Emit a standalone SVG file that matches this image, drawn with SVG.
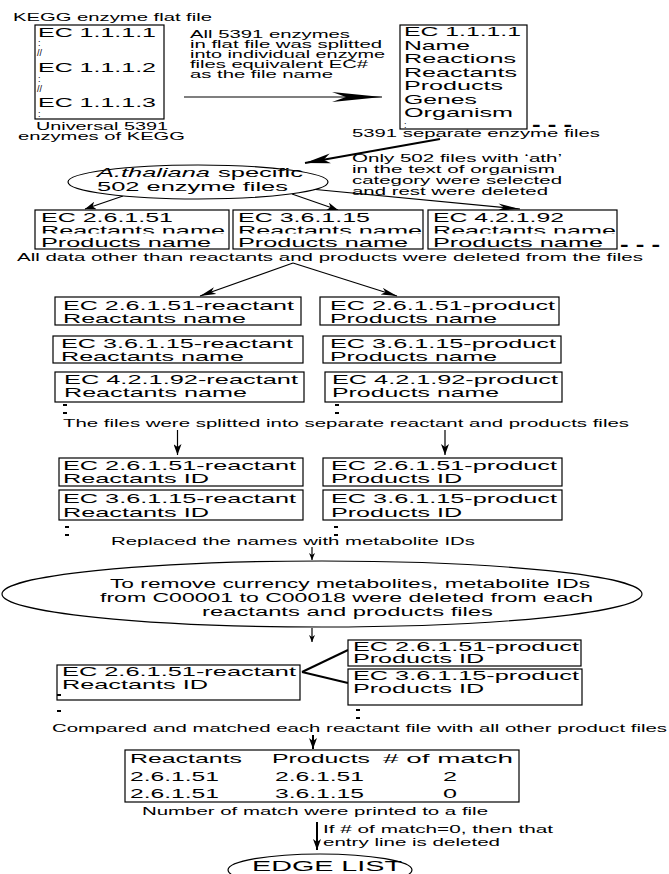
<svg xmlns="http://www.w3.org/2000/svg" width="669" height="874" viewBox="0 0 669 874">
<style>
.t{font-family:"Liberation Sans",Arial,Helvetica,sans-serif;fill:#000}
.s{font-size:11px}
.m{font-size:13.5px}
.e{font-size:12.5px}
.k{font-size:9px}
.d{font-size:18px;font-weight:bold}
.b{fill:#fff;stroke:#000;stroke-width:1.2}
.o{fill:#fff;stroke:#000;stroke-width:1.2}
.c{fill:none;stroke:#000;stroke-width:1.2}
.w{stroke-width:2}
.dot{fill:#000}
</style>
<defs>
<marker id="aL" markerUnits="userSpaceOnUse" markerWidth="52" markerHeight="12" refX="50" refY="6" orient="auto"><path d="M0,1 L50,6 L0,11 L14,6 Z" fill="#000"/></marker>
<marker id="aM" markerUnits="userSpaceOnUse" markerWidth="28" markerHeight="12" refX="26" refY="6" orient="auto"><path d="M0,1 L26,6 L0,11 L7,6 Z" fill="#000"/></marker>
<marker id="aN" markerUnits="userSpaceOnUse" markerWidth="24" markerHeight="8" refX="22" refY="4" orient="auto"><path d="M0,0.5 L22,4 L0,7.5 L6,4 Z" fill="#000"/></marker>
<marker id="aP" markerUnits="userSpaceOnUse" markerWidth="18" markerHeight="8" refX="16" refY="4" orient="auto"><path d="M0,0.5 L16,4 L0,7.5 L4,4 Z" fill="#000"/></marker>
<marker id="aS" markerUnits="userSpaceOnUse" markerWidth="12" markerHeight="8" refX="11" refY="4" orient="auto"><path d="M0,0 L11,4 L0,8 L3,4 Z" fill="#000"/></marker>
<marker id="aT" markerUnits="userSpaceOnUse" markerWidth="8" markerHeight="6" refX="7" refY="3" orient="auto"><path d="M0,0 L7,3 L0,6 L2,3 Z" fill="#000"/></marker>
<clipPath id="clipR" clipPathUnits="userSpaceOnUse"><rect x="0" y="200" width="669" height="33.5"/></clipPath>
</defs>

<g id="connectors">
<line class="c" x1="184" y1="97" x2="382" y2="97" marker-end="url(#aL)"/>
<line class="c w" x1="440" y1="139" x2="305" y2="163" marker-end="url(#aM)"/>
<line class="c" x1="123" y1="196" x2="85" y2="209" marker-end="url(#aS)"/>
<line class="c" x1="292" y1="194" x2="338" y2="210" marker-end="url(#aS)"/>
<line class="c" x1="300" y1="188" x2="520" y2="209" marker-end="url(#aN)"/>
<line class="c" x1="293" y1="263" x2="200" y2="296" marker-end="url(#aP)"/>
<line class="c" x1="293" y1="263" x2="397" y2="296" marker-end="url(#aP)"/>
<line class="c" x1="177.5" y1="430" x2="177.5" y2="455" marker-end="url(#aS)"/>
<line class="c" x1="445" y1="430" x2="445" y2="455" marker-end="url(#aS)"/>
<line class="c" x1="312" y1="547" x2="312" y2="560" marker-end="url(#aT)"/>
<line class="c" x1="312" y1="628" x2="312" y2="642" marker-end="url(#aT)"/>
<line class="c w" x1="302" y1="672" x2="348" y2="650"/>
<line class="c w" x1="302" y1="672" x2="348" y2="683"/>
<line class="c w" x1="313" y1="735" x2="313" y2="749" marker-end="url(#aS)"/>
<line class="c w" x1="317" y1="822" x2="317" y2="850" marker-end="url(#aS)"/>
</g>

<g id="lbl-flatfile">
<text class="t s" x="13" y="21" textLength="199" lengthAdjust="spacingAndGlyphs">KEGG enzyme flat file</text>
</g>

<g id="node-flatfile">
<rect class="b" x="35" y="25" width="129" height="94" stroke-width="1.5"/>
<text class="t m" x="38" y="37" textLength="118" lengthAdjust="spacingAndGlyphs">EC 1.1.1.1</text>
<text class="t k" x="38" y="45.5">:</text>
<text class="t k" x="37" y="56">//</text>
<text class="t m" x="38" y="72" textLength="118" lengthAdjust="spacingAndGlyphs">EC 1.1.1.2</text>
<text class="t k" x="38" y="82">:</text>
<text class="t k" x="37" y="92">//</text>
<text class="t m" x="38" y="107" textLength="118" lengthAdjust="spacingAndGlyphs">EC 1.1.1.3</text>
<text class="t k" x="38" y="117">:</text>
</g>

<g id="lbl-universal">
<text class="t s" x="36" y="130" textLength="132" lengthAdjust="spacingAndGlyphs">Universal 5391</text>
<text class="t s" x="18" y="140" textLength="167" lengthAdjust="spacingAndGlyphs">enzymes of KEGG</text>
</g>

<g id="lbl-split">
<text class="t s" x="190" y="38" textLength="160" lengthAdjust="spacingAndGlyphs">All 5391 enzymes</text>
<text class="t s" x="190" y="48" textLength="192" lengthAdjust="spacingAndGlyphs">in flat file was splitted</text>
<text class="t s" x="190" y="58" textLength="195" lengthAdjust="spacingAndGlyphs">into individual enzyme</text>
<text class="t s" x="190" y="68" textLength="178" lengthAdjust="spacingAndGlyphs">files equivalent EC#</text>
<text class="t s" x="190" y="78" textLength="143" lengthAdjust="spacingAndGlyphs">as the file name</text>
</g>

<g id="node-enzymefile">
<rect class="b" x="400" y="25" width="127" height="104"/>
<text class="t m" x="404" y="36" textLength="117" lengthAdjust="spacingAndGlyphs">EC 1.1.1.1</text>
<text class="t m" x="404" y="50" textLength="66" lengthAdjust="spacingAndGlyphs">Name</text>
<text class="t m" x="404" y="63" textLength="112" lengthAdjust="spacingAndGlyphs">Reactions</text>
<text class="t m" x="404" y="77" textLength="113" lengthAdjust="spacingAndGlyphs">Reactants</text>
<text class="t m" x="404" y="90" textLength="99" lengthAdjust="spacingAndGlyphs">Products</text>
<text class="t m" x="404" y="104" textLength="73" lengthAdjust="spacingAndGlyphs">Genes</text>
<text class="t m" x="404" y="117" textLength="109" lengthAdjust="spacingAndGlyphs">Organism</text>
<text class="t k" x="404" y="128">:</text>
</g>
<g id="more-1">
<text class="t d" x="532" y="130.5" textLength="40" lengthAdjust="spacingAndGlyphs">- - -</text>
</g>

<g id="lbl-separate">
<text class="t s" x="352" y="137" textLength="248" lengthAdjust="spacingAndGlyphs">5391 separate enzyme files</text>
</g>

<g id="lbl-ath">
<text class="t s" x="352" y="162" textLength="210" lengthAdjust="spacingAndGlyphs">Only 502 files with ‘ath’</text>
<text class="t s" x="352" y="173" textLength="203" lengthAdjust="spacingAndGlyphs">in the text of organism</text>
<text class="t s" x="352" y="184" textLength="210" lengthAdjust="spacingAndGlyphs">category were selected</text>
<text class="t s" x="352" y="195" textLength="196" lengthAdjust="spacingAndGlyphs">and rest were deleted</text>
</g>

<g id="node-athaliana">
<ellipse class="o" cx="198" cy="182" rx="130" ry="17"/>
<text class="t m" x="97" y="177" font-style="italic" textLength="113" lengthAdjust="spacingAndGlyphs">A.thaliana</text>
<text class="t m" x="218" y="177" textLength="85" lengthAdjust="spacingAndGlyphs">specific</text>
<text class="t m" x="97" y="191" textLength="191" lengthAdjust="spacingAndGlyphs">502 enzyme files</text>
</g>

<g id="node-ec2615">
<rect class="b" x="35" y="210" width="194" height="39"/>
<text class="t m" x="41" y="222" textLength="132" lengthAdjust="spacingAndGlyphs">EC 2.6.1.51</text>
<text class="t m" x="41" y="235" textLength="184" lengthAdjust="spacingAndGlyphs" clip-path="url(#clipR)">Reactants name</text>
<text class="t m" x="41" y="247" textLength="170" lengthAdjust="spacingAndGlyphs">Products name</text>
</g>
<g id="node-ec3611">
<rect class="b" x="233" y="210" width="190" height="39"/>
<text class="t m" x="238" y="222" textLength="132" lengthAdjust="spacingAndGlyphs">EC 3.6.1.15</text>
<text class="t m" x="238" y="235" textLength="184" lengthAdjust="spacingAndGlyphs" clip-path="url(#clipR)">Reactants name</text>
<text class="t m" x="238" y="247" textLength="170" lengthAdjust="spacingAndGlyphs">Products name</text>
</g>
<g id="node-ec4219">
<rect class="b" x="428" y="210" width="189" height="39"/>
<text class="t m" x="433" y="222" textLength="131" lengthAdjust="spacingAndGlyphs">EC 4.2.1.92</text>
<text class="t m" x="433" y="235" textLength="183" lengthAdjust="spacingAndGlyphs" clip-path="url(#clipR)">Reactants name</text>
<text class="t m" x="433" y="247" textLength="170" lengthAdjust="spacingAndGlyphs">Products name</text>
</g>
<g id="more-2">
<text class="t d" x="620" y="250.5" textLength="40" lengthAdjust="spacingAndGlyphs">- - -</text>
</g>

<g id="lbl-alldata">
<text class="t s" x="17" y="261" textLength="626" lengthAdjust="spacingAndGlyphs">All data other than reactants and products were deleted from the files</text>
</g>

<g id="node-r1-name">
<rect class="b" x="55" y="297" width="246" height="28"/>
<text class="t m" x="63" y="310" textLength="231" lengthAdjust="spacingAndGlyphs">EC 2.6.1.51-reactant</text>
<text class="t m" x="63" y="323" textLength="183" lengthAdjust="spacingAndGlyphs">Reactants name</text>
</g>
<g id="node-p1-name">
<rect class="b" x="320" y="297" width="239" height="28"/>
<text class="t m" x="330" y="310" textLength="225" lengthAdjust="spacingAndGlyphs">EC 2.6.1.51-product</text>
<text class="t m" x="330" y="323" textLength="167" lengthAdjust="spacingAndGlyphs">Products name</text>
</g>
<g id="node-r2-name">
<rect class="b" x="53" y="336" width="250" height="27"/>
<text class="t m" x="61" y="348" textLength="232" lengthAdjust="spacingAndGlyphs">EC 3.6.1.15-reactant</text>
<text class="t m" x="61" y="361" textLength="183" lengthAdjust="spacingAndGlyphs">Reactants name</text>
</g>
<g id="node-p2-name">
<rect class="b" x="323" y="336" width="238" height="27"/>
<text class="t m" x="330" y="348" textLength="226" lengthAdjust="spacingAndGlyphs">EC 3.6.1.15-product</text>
<text class="t m" x="330" y="361" textLength="167" lengthAdjust="spacingAndGlyphs">Products name</text>
</g>
<g id="node-r3-name">
<rect class="b" x="55" y="372" width="249" height="30"/>
<text class="t m" x="64" y="384" textLength="234" lengthAdjust="spacingAndGlyphs">EC 4.2.1.92-reactant</text>
<text class="t m" x="64" y="397" textLength="183" lengthAdjust="spacingAndGlyphs">Reactants name</text>
</g>
<g id="node-p3-name">
<rect class="b" x="325" y="372" width="237" height="30"/>
<text class="t m" x="332" y="384" textLength="226" lengthAdjust="spacingAndGlyphs">EC 4.2.1.92-product</text>
<text class="t m" x="332" y="397" textLength="167" lengthAdjust="spacingAndGlyphs">Products name</text>
</g>
<g id="dots-1">
<rect class="dot" x="63" y="404" width="4" height="2"/>
<rect class="dot" x="63" y="412" width="4" height="2"/>
<rect class="dot" x="335" y="404" width="4" height="2"/>
<rect class="dot" x="335" y="412" width="4" height="2"/>
</g>

<g id="lbl-splitfiles">
<text class="t s" x="63" y="427" textLength="566" lengthAdjust="spacingAndGlyphs">The files were splitted into separate reactant and products files</text>
</g>

<g id="node-r1-id">
<rect class="b" x="59" y="458" width="244" height="28"/>
<text class="t m" x="63" y="470" textLength="233" lengthAdjust="spacingAndGlyphs">EC 2.6.1.51-reactant</text>
<text class="t m" x="63" y="483" textLength="146" lengthAdjust="spacingAndGlyphs">Reactants ID</text>
</g>
<g id="node-p1-id">
<rect class="b" x="323" y="458" width="239" height="28"/>
<text class="t m" x="331" y="470" textLength="226" lengthAdjust="spacingAndGlyphs">EC 2.6.1.51-product</text>
<text class="t m" x="331" y="483" textLength="131" lengthAdjust="spacingAndGlyphs">Products ID</text>
</g>
<g id="node-r2-id">
<rect class="b" x="59" y="490" width="244" height="30"/>
<text class="t m" x="63" y="503" textLength="233" lengthAdjust="spacingAndGlyphs">EC 3.6.1.15-reactant</text>
<text class="t m" x="63" y="517" textLength="146" lengthAdjust="spacingAndGlyphs">Reactants ID</text>
</g>
<g id="node-p2-id">
<rect class="b" x="323" y="490" width="239" height="30"/>
<text class="t m" x="331" y="503" textLength="226" lengthAdjust="spacingAndGlyphs">EC 3.6.1.15-product</text>
<text class="t m" x="331" y="517" textLength="131" lengthAdjust="spacingAndGlyphs">Products ID</text>
</g>
<g id="dots-2">
<rect class="dot" x="65" y="526" width="4" height="2"/>
<rect class="dot" x="65" y="534" width="4" height="2"/>
<rect class="dot" x="334" y="526" width="4" height="2"/>
<rect class="dot" x="334" y="534" width="4" height="2"/>
</g>

<g id="lbl-replaced">
<text class="t s" x="111" y="545" textLength="364" lengthAdjust="spacingAndGlyphs">Replaced the names with metabolite IDs</text>
</g>

<g id="node-currency">
<ellipse class="o" cx="322" cy="594" rx="320" ry="33"/>
<text class="t e" x="110" y="588" textLength="480" lengthAdjust="spacingAndGlyphs">To remove currency metabolites, metabolite IDs</text>
<text class="t e" x="100" y="602" textLength="493" lengthAdjust="spacingAndGlyphs">from C00001 to C00018 were deleted from each</text>
<text class="t e" x="202" y="616" textLength="291" lengthAdjust="spacingAndGlyphs">reactants and products files</text>
</g>

<g id="node-r-final">
<rect class="b" x="57" y="665" width="243" height="35"/>
<text class="t m" x="62" y="676" textLength="234" lengthAdjust="spacingAndGlyphs">EC 2.6.1.51-reactant</text>
<text class="t m" x="62" y="689" textLength="146" lengthAdjust="spacingAndGlyphs">Reactants ID</text>
</g>
<g id="node-p1-final">
<rect class="b" x="348" y="640" width="233" height="26"/>
<text class="t m" x="353" y="651" textLength="226" lengthAdjust="spacingAndGlyphs">EC 2.6.1.51-product</text>
<text class="t m" x="353" y="663" textLength="131" lengthAdjust="spacingAndGlyphs">Products ID</text>
</g>
<g id="node-p2-final">
<rect class="b" x="348" y="669" width="234" height="36"/>
<text class="t m" x="353" y="680" textLength="226" lengthAdjust="spacingAndGlyphs">EC 3.6.1.15-product</text>
<text class="t m" x="353" y="693" textLength="131" lengthAdjust="spacingAndGlyphs">Products ID</text>
</g>
<g id="dots-3">
<rect class="dot" x="57" y="694" width="4" height="2"/>
<rect class="dot" x="57" y="710" width="4" height="2"/>
<rect class="dot" x="356" y="709" width="4" height="2"/>
<rect class="dot" x="356" y="717" width="4" height="2"/>
</g>

<g id="lbl-compared">
<text class="t s" x="52" y="732" textLength="615" lengthAdjust="spacingAndGlyphs">Compared and matched each reactant file with all other product files</text>
</g>

<g id="node-table">
<rect class="b" x="125" y="750" width="394" height="52"/>
<text class="t m" x="130" y="763" textLength="112" lengthAdjust="spacingAndGlyphs">Reactants</text>
<text class="t m" x="272" y="763" textLength="98" lengthAdjust="spacingAndGlyphs">Products</text>
<text class="t m" x="383" y="763" textLength="130" lengthAdjust="spacingAndGlyphs"># of match</text>
<text class="t m" x="130" y="781" textLength="89" lengthAdjust="spacingAndGlyphs">2.6.1.51</text>
<text class="t m" x="275" y="781" textLength="89" lengthAdjust="spacingAndGlyphs">2.6.1.51</text>
<text class="t m" x="443" y="781" textLength="14" lengthAdjust="spacingAndGlyphs">2</text>
<text class="t m" x="130" y="798" textLength="89" lengthAdjust="spacingAndGlyphs">2.6.1.51</text>
<text class="t m" x="275" y="798" textLength="89" lengthAdjust="spacingAndGlyphs">3.6.1.15</text>
<text class="t m" x="443" y="798" textLength="14" lengthAdjust="spacingAndGlyphs">0</text>
</g>

<g id="lbl-printed">
<text class="t s" x="142" y="815" textLength="346" lengthAdjust="spacingAndGlyphs">Number of match were printed to a file</text>
</g>

<g id="lbl-ifzero">
<text class="t s" x="323" y="833" textLength="230" lengthAdjust="spacingAndGlyphs">If # of match=0, then that</text>
<text class="t s" x="323" y="846" textLength="177" lengthAdjust="spacingAndGlyphs">entry line is deleted</text>
</g>

<g id="node-edgelist">
<ellipse class="o" cx="320" cy="870" rx="92" ry="16"/>
<text class="t" x="252" y="871" font-size="15.5" textLength="150" lengthAdjust="spacingAndGlyphs">EDGE LIST</text>
</g>
</svg>
